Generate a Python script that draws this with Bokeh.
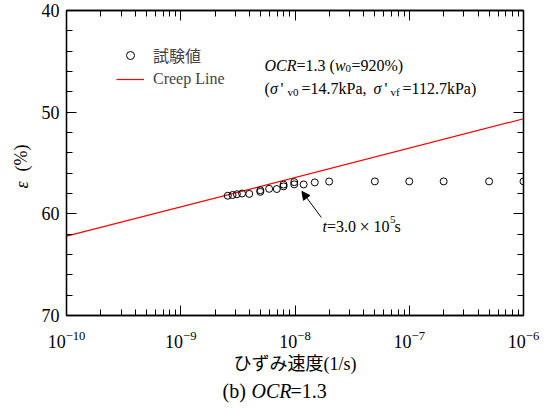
from bokeh.plotting import figure
from bokeh.layouts import row, column
from bokeh.models import (Range1d, LinearAxis, LogAxis, SingleIntervalTicker, LogTicker,
                          Legend, LegendItem, Label, Arrow, NormalHead)
from bokeh.embed import file_html
from bokeh.resources import INLINE

# ---- data ----
rate = [2.58e-9, 2.84e-9, 3.10e-9, 3.44e-9, 3.98e-9, 4.97e-9, 4.97e-9, 5.94e-9, 6.93e-9,
        7.94e-9, 7.94e-9, 9.85e-9, 9.85e-9, 1.19e-8, 1.49e-8, 1.99e-8,
        5.0e-8, 1.0e-7, 2.0e-7, 5.0e-7, 1.0e-6]
strain = [58.22, 58.15, 58.07, 58.0, 58.04, 57.84, 57.68, 57.54, 57.56,
          57.3, 57.12, 57.1, 56.88, 57.11, 56.91, 56.82,
          56.81, 56.81, 56.81, 56.81, 56.81]
creep_rate = [1e-10, 1e-6]
creep_strain = [62.2, 50.65]
arrow_from = (1.70e-8, 60.35)
arrow_to = (1.15e-8, 57.8)
legend_labels = ["試験値", "Creep Line"]
x_label = "ひずみ速度(1/s)"

SERIF = "Liberation Serif, Noto Sans CJK JP"

LW = 38          # width of the left strip holding the y label
MAIN_H = 380     # height of the main figure
CAP_H = 408 - MAIN_H

p = figure(width=555 - LW, height=MAIN_H, x_axis_type="log",
           x_range=Range1d(1e-10, 1e-6), y_range=Range1d(70, 40),
           output_backend="svg", toolbar_location=None,
           min_border_left=27, min_border_right=32, min_border_top=10, min_border_bottom=65)
p.grid.visible = False
p.outline_line_color = "black"
p.outline_line_width = 1.3
p.background_fill_color = "white"
p.border_fill_color = "white"

bottom = p.below[0]
left = p.left[0]
bottom.ticker = LogTicker(num_minor_ticks=10)
left.ticker = SingleIntervalTicker(interval=10, num_minor_ticks=5)

top = LogAxis(ticker=LogTicker(num_minor_ticks=10))
right = LinearAxis(ticker=SingleIntervalTicker(interval=10, num_minor_ticks=5))
p.add_layout(top, "above")
p.add_layout(right, "right")

for ax in [bottom, left, top, right]:
    ax.axis_line_color = "black"
    ax.axis_line_width = 1.3
    ax.major_tick_in = 10
    ax.major_tick_out = 0
    ax.minor_tick_in = 6
    ax.minor_tick_out = 0
    ax.major_tick_line_color = "black"
    ax.minor_tick_line_color = "black"
    ax.major_label_text_font = SERIF
    ax.major_label_text_font_size = "18px"
    ax.major_label_text_color = "black"

for ax in [top, right]:
    ax.major_label_text_font_size = "1px"
    ax.major_label_text_alpha = 0
    ax.major_label_standoff = 0

left.major_label_standoff = 7
bottom.major_label_standoff = 15
bottom.axis_label = x_label
bottom.axis_label_text_font = SERIF
bottom.axis_label_text_font_size = "18px"
bottom.axis_label_text_font_style = "normal"
bottom.axis_label_text_color = "black"
bottom.axis_label_standoff = 3

r_line = p.line(creep_rate, creep_strain, line_color="red", line_width=1.2)
r_pts = p.scatter(rate, strain, marker="circle", size=7, fill_color=None,
                  line_color="black", line_width=1)

legend = Legend(items=[LegendItem(label=legend_labels[0], renderers=[r_pts]),
                       LegendItem(label=legend_labels[1], renderers=[r_line])],
                location=(50, 226), padding=0, margin=0, spacing=2,
                glyph_width=28, glyph_height=20, label_height=20, label_standoff=9,
                label_text_font=SERIF, label_text_font_size="16px",
                background_fill_alpha=0, border_line_color=None)
p.add_layout(legend)

p.add_layout(Arrow(end=NormalHead(size=8, fill_color="black", line_color="black"),
                   x_start=arrow_from[0], y_start=arrow_from[1],
                   x_end=arrow_to[0], y_end=arrow_to[1],
                   line_color="black", line_width=1))


def put(fig, sx, sy, text, size="16px", style="normal", angle=0, align="left"):
    fig.add_layout(Label(x=sx, y=sy, x_units="screen", y_units="screen",
                         text=text, text_font=SERIF, text_font_size=size,
                         text_font_style=style, angle=angle, text_align=align,
                         text_baseline="alphabetic", text_color="black"))


FL, FB = 65, 315   # frame left / bottom in page pixels


def lab(cx, cy, text, **kw):
    put(p, cx - FL, FB - cy, text, **kw)


# annotation block
lab(263, 65, "OCR", style="italic")
lab(295, 65, "=1.3 (")
lab(333.5, 65, "w", style="italic")
lab(344, 68, "0", size="11px")
lab(350, 65, "=920%)")
lab(263, 88, "(")
lab(268.5, 88, "σ", style="italic")
lab(279, 88, "'")
lab(286, 91, "v0", size="11px")
lab(300, 88, "=14.7kPa,")
lab(372, 88, "σ", style="italic")
lab(383, 88, "'")
lab(389, 91, "vf", size="11px")
lab(401, 88, "=112.7kPa)")

# arrow text
lab(321, 226, "t", style="italic")
lab(325.5, 226, "=3.0")
lab(363, 226, "×", size="18px", align="center")
lab(372, 226, "10")
lab(388.5, 219, "5", size="11px")
lab(393, 226, "s")


def blank(w, h):
    f = figure(width=w, height=h, x_range=Range1d(0, 1), y_range=Range1d(0, 1),
               output_backend="svg", toolbar_location=None,
               x_axis_location=None, y_axis_location=None, min_border=0)
    f.grid.visible = False
    f.outline_line_color = None
    f.background_fill_color = "white"
    f.border_fill_color = "white"
    return f


# y label strip
yl = blank(LW, 408)
put(yl, 21, 408 - 188, "ε", size="18px", style="italic", angle=1.5708)
put(yl, 21, 408 - 171, "(%)", size="18px", angle=1.5708)

# caption strip (its frame lines up with the main frame horizontally)
cap = blank(555 - LW, CAP_H)
CB = 397 - MAIN_H - 7  # caption baseline, from the strip's top (empirical offset)
put(cap, 221 - FL, CAP_H - CB, "(b)", size="20px")
put(cap, 250 - FL, CAP_H - CB, "OCR", size="20px", style="italic")
put(cap, 289 - FL, CAP_H - CB, "=1.3", size="20px")

layout = row(yl, column(p, cap, spacing=0), spacing=0)
open("out.html", "w").write(file_html(layout, INLINE))
